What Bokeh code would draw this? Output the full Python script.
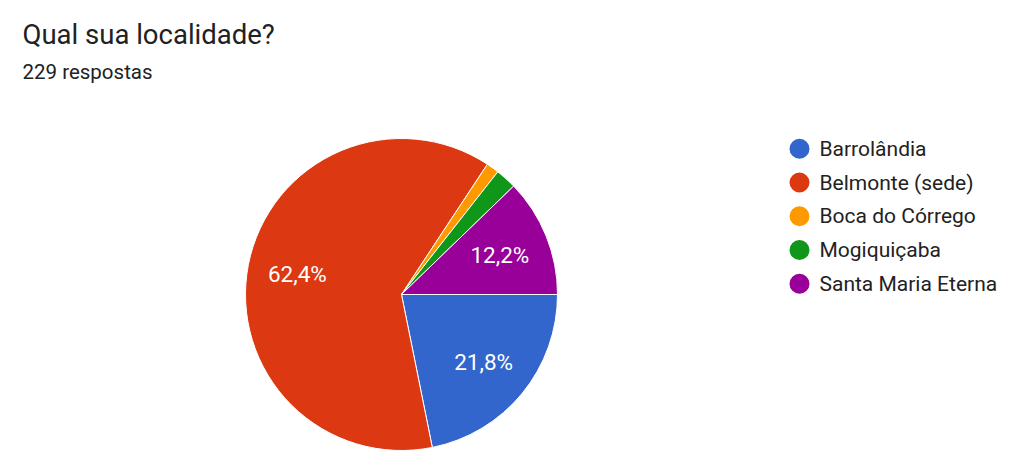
import math
from bokeh.plotting import figure
from bokeh.models import Range1d, ColumnDataSource
from bokeh.core.properties import value
from bokeh.embed import file_html
from bokeh.resources import INLINE

title = "Qual sua localidade?"
subtitle = "229 respostas"
categories = ["Barrolândia", "Belmonte (sede)", "Boca do Córrego", "Mogiquiçaba", "Santa Maria Eterna"]
counts = [50, 143, 3, 5, 28]
colors = ["#3366cc", "#dc3912", "#ff9900", "#109618", "#990099"]

W, H = 1016, 457
p = figure(width=W, height=H, output_backend="svg", toolbar_location=None,
           x_range=Range1d(0, W), y_range=Range1d(-H, 0),
           min_border=0)
p.axis.visible = False
p.grid.visible = False
p.outline_line_color = None

FONT = value("Roboto")
cx, cy, r = 401, -294, 156
total = sum(counts)
starts, ends, labels, lx, ly = [], [], [], [], []
cum = 0
for c in counts:
    a0 = -2 * math.pi * cum / total
    a1 = -2 * math.pi * (cum + c) / total
    starts.append(a1)
    ends.append(a0)
    pct = 100 * c / total
    labels.append(f"{pct:.1f}%".replace(".", ",") if pct >= 5 else "")
    mid = (a0 + a1) / 2
    lx.append(cx + 0.68 * r * math.cos(mid))
    ly.append(cy + 0.68 * r * math.sin(mid))
    cum += c

src = ColumnDataSource(dict(start=starts, end=ends, color=colors, label=labels, lx=lx, ly=ly))
p.wedge(x=cx, y=cy, radius=r, start_angle="start", end_angle="end", direction="anticlock",
        fill_color="color", line_color="white", line_width=1, source=src)
p.text(x="lx", y="ly", text="label", source=src, text_color="white", text_font=FONT,
       text_font_size="22.5px", text_align="center", text_baseline="middle")

p.text(x=[22], y=[-34], text=[title], text_font=FONT, text_font_size="27.5px",
       text_color="#202124", text_baseline="middle")
p.text(x=[22], y=[-71], text=[subtitle], text_font=FONT, text_font_size="20.5px",
       text_color="#202124", text_baseline="middle")

cyl = [-148.3 - 33.75 * i for i in range(len(categories))]
p.scatter(x=[799] * len(categories), y=cyl, size=20, marker="circle",
          fill_color=colors, line_color=None)
p.text(x=[819] * len(categories), y=cyl, text=categories, text_font=FONT,
       text_font_size="21px", text_color="#222222", text_baseline="middle")

open("out.html", "w").write(file_html(p, INLINE))
